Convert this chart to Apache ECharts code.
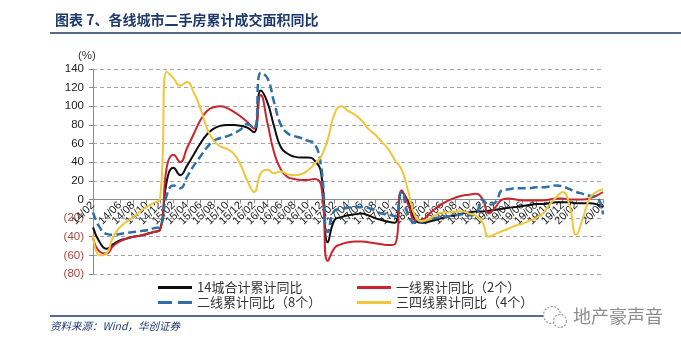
<!DOCTYPE html>
<html>
<head>
<meta charset="utf-8">
<script src="https://cdn.jsdelivr.net/npm/echarts@6/dist/echarts.min.js"></script>
<style>
  html, body { margin: 0; padding: 0; background: #ffffff; }
  #chart { width: 681px; height: 345px; }
</style>
</head>
<body>
<div id="chart"></div>
<script>
// Monthly categories, 2014/02 - 2020/06
const categories = [
  '14/02','14/03','14/04','14/05','14/06','14/07','14/08','14/09','14/10','14/11','14/12',
  '15/01','15/02','15/03','15/04','15/05','15/06','15/07','15/08','15/09','15/10','15/11','15/12',
  '16/01','16/02','16/03','16/04','16/05','16/06','16/07','16/08','16/09','16/10','16/11','16/12',
  '17/01','17/02','17/03','17/04','17/05','17/06','17/07','17/08','17/09','17/10','17/11','17/12',
  '18/01','18/02','18/03','18/04','18/05','18/06','18/07','18/08','18/09','18/10','18/11','18/12',
  '19/01','19/02','19/03','19/04','19/05','19/06','19/07','19/08','19/09','19/10','19/11','19/12',
  '20/01','20/02','20/03','20/04','20/05','20/06'
];

// Cumulative YoY change of second-hand housing transaction area (%)
const total14 = [
  -30, -46, -53, -48, -44, -42, -40, -39, -37, -35, -32,
  20, 34, 26, 36, 48, 60, 70, 76, 79, 80, 80, 79,
  77, 72, 117, 104, 78, 56, 49, 46, 45, 45, 42, 28,
  -46, -22, -19, -17, -16, -15, -17, -20, -22, -24, -25, 8,
  -3, -22, -25, -24, -22, -20, -18, -17, -15, -14, -13, -13,
  -12, -11, -10, -9, -8, -7, -6, -5, -5, -4, -3, -3,
  -3, -4, -4, -4, -5, -8
];
const tier1 = [
  -41, -56, -58, -50, -45, -42, -40, -39, -37, -35, -33,
  35, 48, 40, 55, 70, 85, 95, 99, 100, 98, 94, 89,
  83, 76, 112, 82, 50, 32, 24, 22, 21, 21, 22, 15,
  -66, -52, -48, -46, -45, -45, -46, -47, -48, -49, -48, 10,
  -6, -22, -22, -16, -10, -5, -1, 2, 4, 5, 6, 1,
  -15, -8, 0, 1, 0, -1, -1, -1, -1, 0, 1, 1,
  0, 0, 0, 1, 4, 8
];
const tier2 = [
  -14, -30, -37, -38, -37, -36, -35, -34, -33, -31, -29,
  5, 15, 12, 24, 36, 46, 56, 63, 66, 68, 71, 75,
  81, 76, 136, 130, 104, 80, 71, 68, 66, 63, 60, 35,
  -35, -12, -10, -9, -8, -8, -9, -12, -15, -16, -18, 8,
  -17, -25, -24, -22, -20, -19, -18, -17, -16, -17, -16, 0,
  -6, -3, 10, 11, 12, 12, 12, 13, 13, 14, 15, 14,
  11, 8, 6, 4, 3, -16
];
const tier34 = [
  -38, -60, -58, -40, -30, -24, -19, -13, -8, -4, 1,
  137, 130, 122, 126, 115, 98, 76, 63, 57, 54, 49, 37,
  20, 8, 28, 32, 28, 30, 27, 26, 27, 31, 38, 46,
  65, 92, 100, 95, 91, 85, 76, 70, 62, 54, 42, 32,
  8, -18, -23, -21, -17, -14, -14, -13, -13, -15, -17, -24,
  -40, -37, -34, -31, -28, -26, -23, -20, -15, -6, 2, 8,
  -6, -38, -20, 1, 8, 11
];

// Y axis range and tick step
const yMin = -80, yMax = 140, yStep = 20;

const seriesNames = ['14城合计累计同比', '一线累计同比（2个）', '二线累计同比（8个）', '三四线累计同比（4个）'];
const seriesColors = ['#0d0d0d', '#C9252C', '#2F6FA7', '#F0C63A'];

const cjk = '"Noto Sans CJK SC", "Noto Sans", sans-serif';
const latin = '"Liberation Sans", Arial, sans-serif';
const navy = '#1F3A6E';

// plot box
const gridTop = 69, gridBottom = 71, chartH = 345;
const plotH = chartH - gridTop - gridBottom;
// shift of the category axis from the plot bottom up to the zero line
const zeroShift = plotH * (0 - yMin) / (yMax - yMin);

const chart = echarts.init(document.getElementById('chart'), null, { renderer: 'canvas' });

const solidIcon = 'path://M0,0h34v3h-34z';
const dashIcon = 'path://M0,0h14v3h-14z M20,0h14v3h-14z';

function legendAt(name, left, top, icon) {
  return {
    data: [{ name: name, icon: icon }],
    left: left,
    top: top,
    itemWidth: 34,
    itemHeight: 3,
    selectedMode: false,
    textStyle: { fontFamily: cjk, fontSize: 13, color: '#333333' }
  };
}

const option = {
  backgroundColor: '#ffffff',
  animation: false,
  title: {
    text: '图表 7、各线城市二手房累计成交面积同比',
    left: 50,
    top: 8,
    textStyle: { fontFamily: cjk, fontSize: 14, fontWeight: 'bold', color: navy }
  },
  legend: [
    legendAt(seriesNames[0], 153, 276, solidIcon),
    legendAt(seriesNames[1], 352, 276, solidIcon),
    legendAt(seriesNames[2], 153, 291, dashIcon),
    legendAt(seriesNames[3], 352, 291, solidIcon)
  ],
  grid: { left: 93, right: 78, top: gridTop, bottom: gridBottom },
  xAxis: {
    type: 'category',
    data: categories,
    boundaryGap: false,
    offset: -zeroShift,
    axisLine: { onZero: false, lineStyle: { color: '#8c8c8c', width: 1 } },
    axisTick: { show: true, interval: 1, length: 4, lineStyle: { color: '#8c8c8c' } },
    axisLabel: {
      interval: 1,
      rotate: 45,
      margin: 4,
      fontFamily: latin,
      fontSize: 11,
      color: '#1a1a1a',
      hideOverlap: false,
      showMinLabel: true,
      showMaxLabel: true
    },
    splitLine: { show: false }
  },
  yAxis: {
    type: 'value',
    min: yMin,
    max: yMax,
    interval: yStep,
    axisLine: { show: true, lineStyle: { color: '#8c8c8c', width: 1 } },
    axisTick: { show: true, length: 4, lineStyle: { color: '#8c8c8c' } },
    axisLabel: {
      margin: 9,
      fontFamily: latin,
      fontSize: 11.5,
      formatter: function (v) {
        return v < 0 ? '{neg|(' + Math.abs(v) + ')}' : '{pos|' + v + '}';
      },
      rich: {
        pos: { color: '#222222', fontFamily: latin, fontSize: 11.5 },
        neg: { color: '#A8483F', fontFamily: latin, fontSize: 11.5 }
      }
    },
    splitLine: { show: true, lineStyle: { color: '#a6a6a6', width: 1, type: [4, 3] } }
  },
  series: [
    {
      name: seriesNames[0], type: 'line', data: total14, smooth: 0.5, symbol: 'none',
      lineStyle: { color: seriesColors[0], width: 2 }, itemStyle: { color: seriesColors[0] }
    },
    {
      name: seriesNames[1], type: 'line', data: tier1, smooth: 0.5, symbol: 'none',
      lineStyle: { color: seriesColors[1], width: 2 }, itemStyle: { color: seriesColors[1] }
    },
    {
      name: seriesNames[2], type: 'line', data: tier2, smooth: 0.5, symbol: 'none',
      lineStyle: { color: seriesColors[2], width: 2.5, type: [8, 4] }, itemStyle: { color: seriesColors[2] }
    },
    {
      name: seriesNames[3], type: 'line', data: tier34, smooth: 0.5, symbol: 'none',
      lineStyle: { color: seriesColors[3], width: 2 }, itemStyle: { color: seriesColors[3] }
    }
  ],
  graphic: [
    // rule under the heading
    { type: 'line', shape: { x1: 50, y1: 33, x2: 681, y2: 33 }, style: { stroke: navy, lineWidth: 1.5 } },
    // unit label
    { type: 'text', left: 78, top: 50, style: { text: '(%)', fontFamily: latin, fontSize: 11.5, fill: '#333333' } },
    // footer rule and source
    { type: 'line', shape: { x1: 50, y1: 316, x2: 548, y2: 316 }, style: { stroke: navy, lineWidth: 1.5 } },
    { type: 'text', left: 50, top: 321, style: { text: '资料来源：Wind，华创证券', fontFamily: cjk, fontSize: 10.5, fontStyle: 'italic', fill: navy } },
    // account mark
    { type: 'circle', shape: { cx: 552, cy: 315, r: 8.5 }, style: { fill: '#ffffff', stroke: '#9a9a9a', lineWidth: 1.2, lineDash: [2, 1.5] } },
    { type: 'circle', shape: { cx: 560, cy: 321, r: 6.5 }, style: { fill: '#ffffff', stroke: '#9a9a9a', lineWidth: 1.2, lineDash: [2, 1.5] } },
    { type: 'text', left: 573, top: 307, style: { text: '地产豪声音', fontFamily: cjk, fontSize: 18, fill: '#8e8e8e' } }
  ]
};

chart.setOption(option);
</script>
</body>
</html>
